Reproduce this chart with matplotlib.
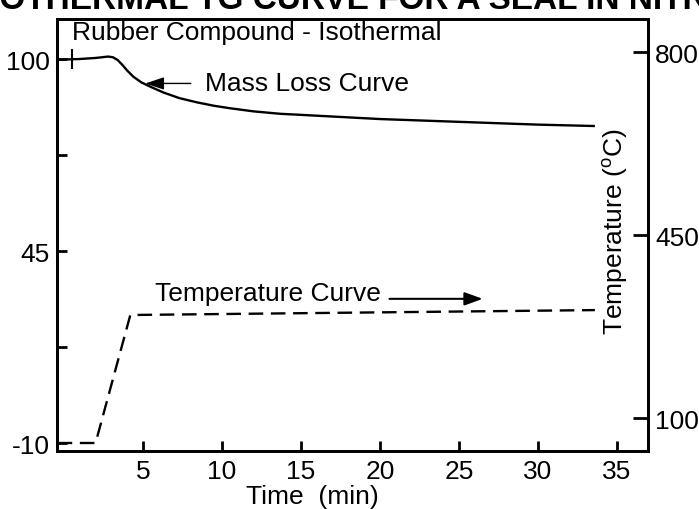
import matplotlib
matplotlib.use("Agg")
import matplotlib.pyplot as plt

plt.rcParams['font.family'] = ['Liberation Sans', 'DejaVu Sans']
plt.rcParams['mathtext.fontset'] = 'custom'
plt.rcParams['mathtext.rm'] = 'Liberation Sans'

# ---- data ----
mass_time = [-0.4, 1.0, 2.0, 2.4, 2.8, 3.1, 3.4, 3.7, 4.0, 4.4, 4.9, 5.5, 6.3, 7.3, 8.4,
             9.5, 10.5, 12.0, 13.7, 15, 20, 25, 30, 33.6]
mass_pct = [99.8, 100.0, 100.3, 100.5, 100.7, 100.5, 99.7, 98.3, 96.7, 94.9, 93.3, 92.0, 90.4,
            88.8, 87.6, 86.6, 85.9, 85.0, 84.3, 84.0, 82.8, 82.0, 81.2, 80.8]
temp_time = [-0.4, 2.0, 4.2, 33.6]
temp_c = [52.8, 52.8, 297.6, 307.0]
start_mark_time = [0.5]
start_mark_pct = [100.0]
x_ticks = [5, 10, 15, 20, 25, 30, 35]
left_ticks = [100, 72.5, 45, 17.5, -10]
left_labels = ['100', '', '45', '', '-10']
right_ticks = [800, 450, 100]
title_text = "ISOTHERMAL TG CURVE FOR A SEAL IN NITROGEN"

W, H = 699, 510
fig = plt.figure(figsize=(W / 100, H / 100), dpi=100)
ax = fig.add_axes([57 / W, 1 - 452 / H, (648 - 57) / W, (452 - 20) / H])
ax2 = ax.twinx()

ax.set_xlim(-0.44, 36.96)
ax.set_ylim(-12.29, 111.46)
ax2.set_ylim(37.5, 863.7)

lw = 1.7
ax.plot(mass_time, mass_pct, color='black', lw=lw, solid_capstyle='butt', solid_joinstyle='round')
ax.plot(start_mark_time, start_mark_pct, marker='|', markersize=14, mew=1.5, color='black', ls='none')
ax2.plot(temp_time, temp_c, color='black', lw=lw, ls=(0, (10.5 / lw, 5.5 / lw)))

fs = 19
for a in (ax, ax2):
    for s in a.spines.values():
        s.set_linewidth(2.0)
ax.set_xticks(x_ticks)
ax.set_xticklabels([str(t) for t in x_ticks])
ax.set_yticks(left_ticks)
ax.set_yticklabels(left_labels)
ax.tick_params(axis='x', direction='in', length=7, width=2, labelsize=fs, pad=6)
ax.tick_params(axis='y', direction='in', length=7, width=2, labelsize=fs, pad=5)
ax2.set_yticks(right_ticks)
ax2.set_yticklabels([str(t) for t in right_ticks])
ax2.tick_params(axis='y', direction='in', length=11, width=2, labelsize=fs, pad=5)

# texts
fig.text(72 / W, 1 - 33 / H, "Rubber Compound - Isothermal", fontsize=fs, ha='left', va='center')
ax.annotate("Mass Loss Curve", xy=(5.15, 93.0), xytext=(8.9, 93.0),
            fontsize=fs, ha='left', va='center',
            arrowprops=dict(arrowstyle='-|>,head_length=0.6,head_width=0.2', color='black', lw=1.0,
                            shrinkA=8, shrinkB=0))
ax.text(5.75, 33.0, "Temperature Curve", fontsize=fs, ha='left', va='center')
ax.annotate("", xy=(26.5, 31.3), xytext=(20.6, 31.3),
            arrowprops=dict(arrowstyle='-|>,head_length=1.1,head_width=0.4', color='black', lw=1.5,
                            shrinkA=0, shrinkB=0))
fig.text(615 / W, 1 - 232 / H, "Temperature ($^{\\mathrm{o}}$C)", fontsize=fs, rotation=90,
         ha='center', va='center')
fig.text(312 / W, 1 - 497 / H, "Time  (min)", fontsize=fs, ha='center', va='center')
fig.text(-32 / W, 1 - 9 / H, title_text, fontsize=24, fontweight='bold', ha='left', va='baseline')

fig.savefig("out.png", dpi=100)
